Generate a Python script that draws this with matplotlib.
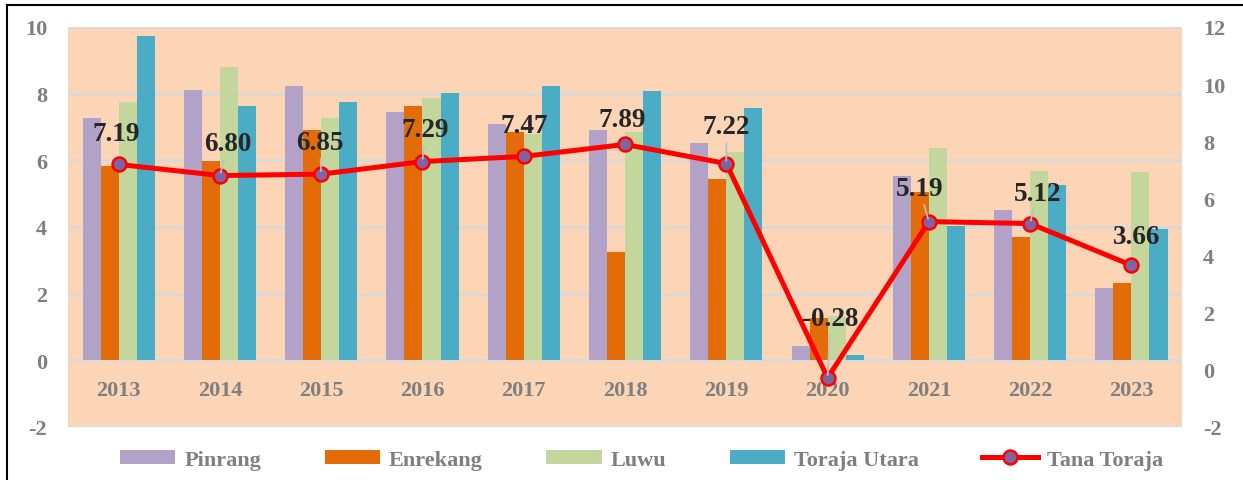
import matplotlib
matplotlib.use("Agg")
import matplotlib.pyplot as plt
import numpy as np
from matplotlib.lines import Line2D
from matplotlib.patches import Patch

plt.rcParams["axes.unicode_minus"] = False

years = ["2013", "2014", "2015", "2016", "2017", "2018", "2019", "2020", "2021", "2022", "2023"]
pinrang = [7.26, 8.10, 8.22, 7.44, 7.08, 6.90, 6.51, 0.42, 5.52, 4.50, 2.16]
enrekang = [5.82, 5.97, 6.90, 7.62, 6.84, 3.24, 5.43, 1.26, 5.04, 3.69, 2.31]
luwu = [7.74, 8.79, 7.26, 7.86, 6.80, 6.84, 6.24, 1.32, 6.36, 5.67, 5.64]
toraja_utara = [9.72, 7.62, 7.74, 8.01, 8.22, 8.07, 7.56, 0.15, 4.02, 5.25, 3.93]
tana_toraja = [7.19, 6.80, 6.85, 7.29, 7.47, 7.89, 7.22, -0.28, 5.19, 5.12, 3.66]
tana_labels = ["7.19", "6.80", "6.85", "7.29", "7.47", "7.89", "7.22", "-0.28", "5.19", "5.12", "3.66"]

bar_names = ["Pinrang", "Enrekang", "Luwu", "Toraja Utara"]
bar_colors = ["#B3A2C7", "#E36C09", "#C3D69B", "#4BACC6"]

SERIF = ["Liberation Serif", "DejaVu Serif"]
GRAY = "#7F7F7F"

fig = plt.figure(figsize=(12.43, 4.81), dpi=100)
ax = fig.add_axes([0.0547, 0.1102, 0.8963, 0.8316])
ax.set_facecolor("#FBD5B5")
for s in ax.spines.values():
    s.set_visible(False)

x = np.arange(len(years))
w = 0.178
series = [pinrang, enrekang, luwu, toraja_utara]
for i, (vals, c) in enumerate(zip(series, bar_colors)):
    ax.bar(x + (i - 1.5) * w, vals, w, color=c, zorder=2)

ax.set_xlim(-0.5, len(years) - 0.5)
ax.set_ylim(-2, 10)
ax.set_yticks(np.arange(-2, 11, 2))
ax.set_xticks([])
ax.grid(axis="y", color="#D9D9D9", linewidth=2, zorder=1)
ax.set_axisbelow(True)
ax.tick_params(axis="y", length=0, pad=15, labelcolor=GRAY)
for lab in ax.get_yticklabels():
    lab.set_fontfamily(SERIF)
    lab.set_fontweight("bold")
    lab.set_fontsize(16)

for xi, yr in zip(x, years):
    ax.text(xi, -0.9, yr, ha="center", va="center", fontsize=16,
            fontweight="bold", color=GRAY, family=SERIF, zorder=3)

ax2 = ax.twinx()
for s in ax2.spines.values():
    s.set_visible(False)
ax2.set_ylim(-2, 12)
ax2.set_yticks(np.arange(-2, 13, 2))
ax2.tick_params(axis="y", length=0, pad=15, labelcolor=GRAY)
for lab in ax2.get_yticklabels():
    lab.set_fontfamily(SERIF)
    lab.set_fontweight("bold")
    lab.set_fontsize(16)

ax2.plot(x, tana_toraja, color="#FF0000", linewidth=3.6, marker="o",
         markersize=10, markerfacecolor="#8064A2", markeredgecolor="#FF0000",
         markeredgewidth=1.8, zorder=5)

# label offsets in points (dx, dy) and whether to draw leader line
offsets = [(-2, 22, False), (6, 23, True), (-1, 23, True), (2, 23, True),
           (0, 22, False), (-2, 18, False), (0, 27, True), (2, 43, True),
           (-7, 24, True), (5, 22, True), (4, 21, False)]
for xi, v, lab, (dx, dy, lead) in zip(x, tana_toraja, tana_labels, offsets):
    kw = {}
    if lead:
        kw["arrowprops"] = dict(arrowstyle="-", color="#BFBFBF", lw=1.2,
                                shrinkA=1, shrinkB=2)
    ax2.annotate(lab, (xi, v), xytext=(dx, dy), textcoords="offset points",
                 ha="center", va="center", fontsize=19.5, fontweight="bold",
                 color="#262626", family=SERIF, zorder=6, **kw)

handles = [Patch(facecolor=c, label=n) for c, n in zip(bar_colors, bar_names)]
handles.append(Line2D([0], [0], color="#FF0000", linewidth=3.6, marker="o",
                      markersize=10, markerfacecolor="#8064A2",
                      markeredgecolor="#FF0000", markeredgewidth=1.8,
                      label="Tana Toraja"))
leg = fig.legend(handles=handles, loc="center", bbox_to_anchor=(0.516, 0.042),
                 ncol=5, frameon=False, handlelength=2.5, handleheight=0.6,
                 columnspacing=2.85, handletextpad=0.4,
                 prop={"family": SERIF, "weight": "bold", "size": 16})
for t in leg.get_texts():
    t.set_color(GRAY)

# outer border lines (top and left)
fig.add_artist(Line2D([7 / 1243, 1.0], [1 - 6 / 481, 1 - 6 / 481],
                      transform=fig.transFigure, color="black", lw=1.5))
fig.add_artist(Line2D([7 / 1243, 7 / 1243], [0.0, 1 - 6 / 481],
                      transform=fig.transFigure, color="black", lw=1.5))

fig.savefig("out.png", dpi=100)
